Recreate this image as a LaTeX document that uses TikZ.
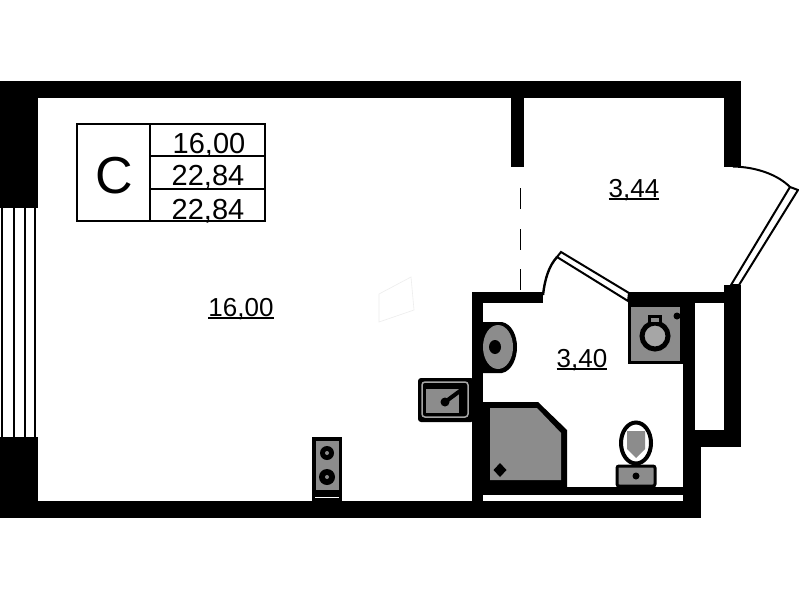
\documentclass[tikz,border=0pt]{standalone}
\usepackage{fontspec}
\setmainfont{Liberation Sans}
\newcommand{\areatext}[1]{\setbox0\hbox{#1}\rlap{\rule[-2.5pt]{\wd0}{2pt}}\box0}
\begin{document}
\begin{tikzpicture}[
		x=1pt,y=-1pt,
		wall/.style={fill=black,draw=none},
		fixture/.style={fill=black!45,draw=none},
		leaf/.style={draw,fill=white,line width=2pt,line join=miter},
		legendline/.style={draw,line width=1.8pt},
		area/.style={inner sep=0pt,anchor=base,font=\fontsize{26}{26}\selectfont},
		legend/.style={inner sep=0pt,anchor=base,font=\fontsize{29}{29}\selectfont}
		]
		\useasboundingbox (0,0) rectangle (799,600);
		\fill[white] (0,0) rectangle (799,600);
		% outer walls
		\fill[wall] (0,81) rectangle (741,98);
		\fill[wall] (0,81) rectangle (38,208);
		\fill[wall] (0,437) rectangle (38,518);
		\fill[wall] (0,501) rectangle (701,518);
		\fill[wall] (724,81) rectangle (741,167);
		\fill[wall] (511,98) rectangle (524,167);
		% bathroom walls
		\fill[wall] (472,292) rectangle (483,518);
		\fill[wall] (472,292) rectangle (543,303);
		\fill[wall] (628,292) rectangle (741,303);
		\fill[wall] (683,292) rectangle (695,518);
		\fill[wall] (724,285) rectangle (741,447);
		\fill[wall] (683,430) rectangle (741,447);
		\fill[wall] (683,447) rectangle (701,518);
		\fill[wall] (483,487) rectangle (683,495);
		% window
		\foreach \x in {2,14,25,35} {
			\draw[line width=1.4pt] (\x,208) -- (\x,437);
		}
		% dashed opening
		\foreach \y in {188,229,269} {
			\draw[line width=1.2pt] (520.5,\y) -- (520.5,\y+21);
		}
		% doors
		\draw[leaf] (731,285) -- (790,187) -- (798,190) -- (739,285) -- cycle;
		\draw[line width=2pt] (733,166.5) .. controls (757,167) and (778,175) .. (790,187);
		\draw[leaf] (561,252) -- (629,293) -- (628,301) -- (557,257) -- cycle;
		\draw[line width=2.4pt] (557,257) .. controls (549,266) and (545,278) .. (543,295);
		% shower
		\fill[wall] (483,402) -- (538,402) -- (567,430) -- (567,487) -- (483,487) -- cycle;
		\fill[fixture] (490,408) -- (537,408) -- (561,433) -- (561,480) -- (490,480) -- cycle;
		\fill[wall] (500,463) -- (506.5,470) -- (500,477) -- (493.5,470) -- cycle;
		% washing machine
		\fill[wall] (628,303) rectangle (683,364);
		\fill[fixture] (631,307) rectangle (680,361);
		\draw[line width=5pt,fill=black!35] (655,336) circle (13);
		\fill[wall] (648,315) rectangle (662,324);
		\fill[fixture] (651,318) rectangle (659,322);
		\fill[wall] (677,316) circle (3.5);
		% bathroom sink
		\fill[wall] (483,322) -- (502,322) .. controls (512,324) and (517,336) .. (517,347) .. controls (517,358) and (512,371) .. (502,373) -- (483,373) -- cycle;
		\fill[fixture] (498,347) ellipse (15 and 22);
		\fill[wall] (495,347) ellipse (6 and 7);
		% toilet
		\draw[line width=4pt,fill=white] (636,443) ellipse (15 and 20.5);
		\fill[fixture] (627,431) -- (645,431) -- (645,449) -- (636,458) -- (627,449) -- cycle;
		\draw[line width=3pt,rounded corners=2pt,fill=black!45] (617,466) rectangle (655,486);
		\fill[wall] (636,476) circle (3.5);
		% kitchen sink
		\fill[wall,rounded corners=3pt] (418,378) rectangle (474,422);
		\draw[black!35,line width=1.5pt,rounded corners=3pt] (422,382) rectangle (468,417);
		\fill[fixture] (426,389) rectangle (459,413);
		\draw[line width=4pt,line cap=round] (445,402) -- (464,388);
		\fill[wall] (445,402) circle (4.5);
		% stove
		\fill[wall] (312,437) rectangle (342,501);
		\fill[fixture] (316,441) rectangle (339,490);
		\fill[white] (315,496.5) rectangle (339,498);
		\foreach \y/\r in {453/7,477/8} {
			\fill[wall] (327,\y) circle (\r);
			\fill[black!45] (327,\y) circle (2);
		}
		% faint mark
		\draw[black!7,line width=.6pt] (379,294) -- (411,277) -- (414,310) -- (379,322) -- cycle;
		% legend
		\draw[legendline] (77,124) rectangle (265,221);
		\draw[legendline] (150,124) -- (150,221);
		\draw[legendline] (150,156) -- (265,156);
		\draw[legendline] (150,189) -- (265,189);
		\node[inner sep=0pt,font=\fontsize{52}{52}\selectfont] (type) at (114.5,176) {C};
		\node[legend] (living) at (209,153) {16,00};
		\node[legend] (total) at (208,185) {22,84};
		\node[legend] (gross) at (208,219) {22,84};
		% room areas
		\node[area] (room) at (241,316) {\areatext{16,00}};
		\node[area] (hall) at (634,197) {\areatext{3,44}};
		\node[area] (bath) at (582,367) {\areatext{3,40}};
	\end{tikzpicture}
\end{document}
